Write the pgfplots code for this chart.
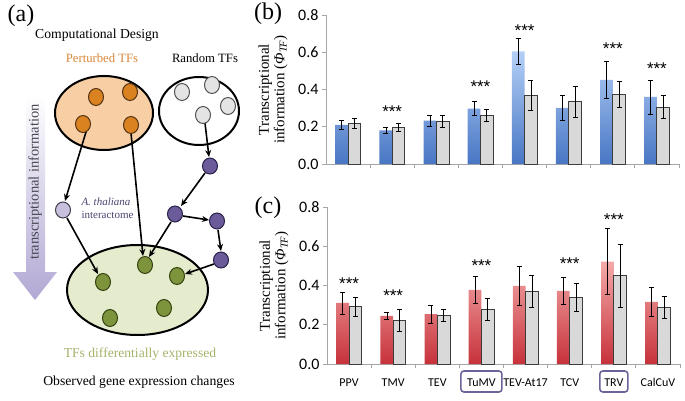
\documentclass[border=0pt]{standalone}
\usepackage{pgfplots}
\pgfplotsset{compat=1.18}
\usepackage{pgfplotstable}
\usepackage{fontspec}
\setmainfont{Liberation Serif}
\newfontfamily\calibri{Carlito}
\newfontfamily\arial{Liberation Sans}
\usetikzlibrary{arrows.meta}
\newcommand{\fs}[1]{\fontsize{#1bp}{#1bp}\selectfont}
\definecolor{blueTop}{RGB}{180,208,247}
\definecolor{blueBot}{RGB}{72,118,196}
\definecolor{redTop}{RGB}{243,170,170}
\definecolor{redBot}{RGB}{199,50,58}
\definecolor{grayfill}{RGB}{217,217,217}
\definecolor{barborder}{RGB}{60,60,60}
\definecolor{axisgray}{RGB}{166,166,166}
\definecolor{peach}{RGB}{248,207,165}
\definecolor{orangenode}{RGB}{218,129,32}
\definecolor{orangetext}{RGB}{217,135,58}
\definecolor{greynode}{RGB}{228,228,228}
\definecolor{purplenode}{RGB}{107,91,154}
\definecolor{lightpurple}{RGB}{200,192,222}
\definecolor{greenfill}{RGB}{229,236,205}
\definecolor{greennode}{RGB}{126,148,60}
\definecolor{greentext}{RGB}{162,179,106}
\definecolor{purpletext}{RGB}{75,68,112}
\definecolor{arrowlav}{RGB}{178,168,212}
\definecolor{boxpurple}{RGB}{110,99,153}

\pgfplotstableread{
x   a      ea     g      eg
0   0.210  0.022  0.218  0.025
1   0.180  0.017  0.198  0.020
2   0.233  0.030  0.229  0.030
3   0.298  0.036  0.260  0.033
4   0.605  0.070  0.368  0.080
5   0.302  0.067  0.334  0.085
6   0.452  0.097  0.373  0.070
7   0.360  0.092  0.305  0.062
}\tableb

\pgfplotstableread{
x   a      ea     g      eg
0   0.311  0.056  0.291  0.049
1   0.245  0.019  0.223  0.058
2   0.254  0.046  0.249  0.032
3   0.378  0.067  0.279  0.058
4   0.398  0.098  0.371  0.080
5   0.373  0.068  0.340  0.070
6   0.522  0.168  0.449  0.160
7   0.316  0.073  0.289  0.057
}\tablec

\pgfplotsset{
  panel/.style={
    scale only axis, width=353bp,
    xmin=-0.5, xmax=7.5, ymin=0, ymax=0.8,
    axis x line*=bottom, axis y line*=left,
    axis line style={draw=axisgray, line width=0.8bp},
    ytick={0,0.2,0.4,0.6,0.8},
    /pgf/number format/assume math mode=true,
    yticklabel style={font=\calibri\fs{16}, /pgf/number format/.cd, fixed, fixed zerofill, precision=1},
    xtick={0.5,1.5,...,7.5}, xticklabels={},
    tick align=outside, major tick length=4bp,
    tick style={draw=axisgray, line width=0.8bp},
    ybar=0pt, bar width=12.7bp,
    clip=false,
  },
  errs/.style={error bars/.cd, y dir=both, y explicit,
    error bar style={draw=black, line width=0.6bp},
    error mark options={rotate=90, mark size=2.5bp, draw=black, line width=0.6bp}},
}
\newcommand{\ylab}{\node[rotate=90, align=center, font=\fontsize{15bp}{15.5bp}\selectfont] at ([xshift=-53bp]axis description cs:0,0.5) {Transcriptional\\information (\textit{Φ}\textsubscript{\textit{TF}})};}

\begin{document}
\begin{tikzpicture}
\path[use as bounding box] (0,0) rectangle (685bp,-401bp);

\begin{scope}[x=1bp,y=-1bp]
% big arrow
\shade[top color=white, bottom color=arrowlav] (26,95) -- (45,95) -- (45,272) -- (57,272) -- (35,300) -- (13,272) -- (26,272) -- cycle;
\node[rotate=90, text={rgb,255:red,70;green,70;blue,80}, font=\fs{14.5}] at (35,182) {transcriptional information};

% ellipses
\draw[line width=2bp, fill=peach] (104,113) ellipse [x radius=49bp, y radius=37bp];
\draw[line width=2bp, fill=white] (199,111) ellipse [x radius=40bp, y radius=34bp];
\draw[line width=2bp, fill=greenfill] (137.5,290) ellipse [x radius=70.5bp, y radius=45bp];

% arrows
\begin{scope}[line width=1.6bp, -{Stealth[length=7bp,width=6bp]}]
\draw (86,132) -- (65,201);
\draw (131,133) -- (143,256);
\draw (205,123) -- (209,157);
\draw (205,173) -- (181,206);
\draw (183,216) -- (209,220);
\draw (218,230) -- (221,251);
\draw (214,264) -- (185,274);
\draw (171,222) -- (149,257);
\draw (67,218) -- (98,274);
\end{scope}

% nodes
\foreach \p in {(96,97),(130,92),(83,124),(131,125)}
  \draw[fill=orangenode, draw={rgb,255:red,80;green,50;blue,20}, line width=1bp] \p ellipse [x radius=7.5bp, y radius=8.5bp];
\foreach \p in {(182,92),(212,85),(228,106),(203,115)}
  \draw[fill=greynode, draw={rgb,255:red,80;green,80;blue,80}, line width=1bp] \p ellipse [x radius=7.5bp, y radius=8.5bp];
\foreach \p in {(210,166),(175,214),(217,221),(221,260)}
  \draw[fill=purplenode, draw={rgb,255:red,40;green,32;blue,70}, line width=1bp] \p ellipse [x radius=7.5bp, y radius=8bp];
\draw[fill=lightpurple, draw={rgb,255:red,60;green,60;blue,70}, line width=1bp] (63,210) ellipse [x radius=7.5bp, y radius=8bp];
\foreach \p in {(145,265),(177,276),(103,282),(164,308),(110,318)}
  \draw[fill=greennode, draw={rgb,255:red,50;green,65;blue,15}, line width=1bp] \p ellipse [x radius=7.5bp, y radius=8.5bp];

% texts
\node[font=\fs{24}] at (21,16) {(a)};
\node[font=\fs{13.7}] at (97,35) {Computational Design};
\node[font=\fs{12.7}, text=orangetext] at (102,58) {Perturbed TFs};
\node[font=\fs{12.7}] at (205,58) {Random TFs};
\node[font=\fs{11}\itshape, text=purpletext, anchor=west] at (78,202) {A. thaliana};
\node[font=\fs{11}, text=purpletext, anchor=west] at (78,215) {interactome};
\node[font=\fs{13.6}, text=greentext] at (140,354) {TFs differentially expressed};
\node[font=\fs{13.7}] at (139,382) {Observed gene expression changes};
\node[font=\fs{24}] at (268,14) {(b)};
\node[font=\fs{24}] at (268,208) {(c)};
\end{scope}

% panel (b)
\begin{axis}[panel, at={(326bp,-164bp)}, anchor=south west, height=149bp]
\addplot[draw=none, top color=blueTop, bottom color=blueBot, errs] table[x=x, y=a, y error=ea] {\tableb};
\addplot[draw=barborder, fill=grayfill, line width=0.9bp, errs] table[x=x, y=g, y error=eg] {\tableb};
\ylab
\begin{scope}[font=\arial\fs{17}]
\node[anchor=base] at (axis cs:1,0.250) {***};
\node[anchor=base] at (axis cs:3,0.382) {***};
\node[anchor=base] at (axis cs:4,0.687) {***};
\node[anchor=base] at (axis cs:6,0.587) {***};
\node[anchor=base] at (axis cs:7,0.479) {***};
\end{scope}
\end{axis}

% panel (c)
\begin{axis}[panel, at={(327bp,-364bp)}, anchor=south west, height=157bp,
  extra x ticks={0,1,2,3,4,5,6,7},
  extra x tick labels={PPV,TMV,TEV,TuMV,TEV-At17,TCV,TRV,CalCuV},
  extra x tick style={major tick length=0pt, tick style={draw=none},
    tick label style={font=\calibri\fs{12}, anchor=base, yshift=-22.5bp}}]
\addplot[draw=none, top color=redTop, bottom color=redBot, errs] table[x=x, y=a, y error=ea] {\tablec};
\addplot[draw=barborder, fill=grayfill, line width=0.9bp, errs] table[x=x, y=g, y error=eg] {\tablec};
\ylab
\begin{scope}[font=\arial\fs{17}]
\node[anchor=base] at (axis cs:0,0.382) {***};
\node[anchor=base] at (axis cs:1,0.318) {***};
\node[anchor=base] at (axis cs:3,0.470) {***};
\node[anchor=base] at (axis cs:5,0.482) {***};
\node[anchor=base] at (axis cs:6,0.706) {***};
\end{scope}
\draw[boxpurple, line width=1.6bp, rounded corners=3bp] ([xshift=-20.5bp,yshift=-7bp]axis cs:3,0) rectangle ([xshift=20.5bp,yshift=-28bp]axis cs:3,0);
\draw[boxpurple, line width=1.6bp, rounded corners=3bp] ([xshift=-14bp,yshift=-7bp]axis cs:6,0) rectangle ([xshift=14bp,yshift=-28bp]axis cs:6,0);
\end{axis}
\end{tikzpicture}
\end{document}
